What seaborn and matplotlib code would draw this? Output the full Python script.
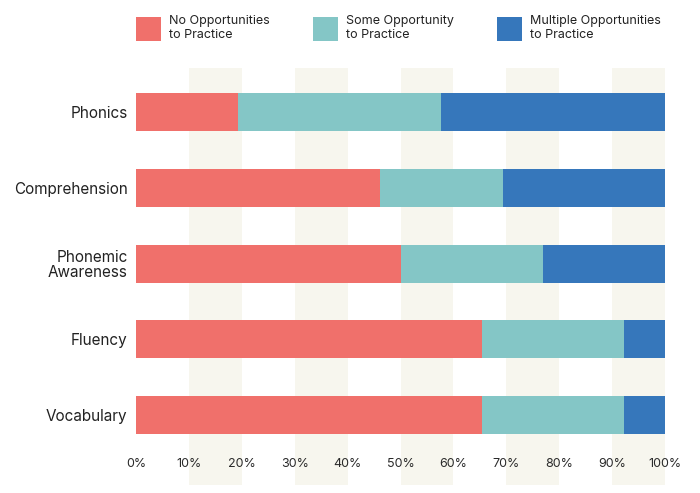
import matplotlib
matplotlib.use("Agg")
import matplotlib.pyplot as plt
from matplotlib.patches import Patch
import seaborn as sns
import numpy as np
import pandas as pd

categories = ["Phonics", "Comprehension", "Phonemic\nAwareness", "Fluency", "Vocabulary"]
no_opp = [19.2, 46.2, 50.0, 65.4, 65.4]
some_opp = [38.5, 23.1, 26.9, 26.9, 26.9]
multi_opp = [42.3, 30.7, 23.1, 7.7, 7.7]
series_names = ["No Opportunities\nto Practice", "Some Opportunity\nto Practice", "Multiple Opportunities\nto Practice"]
colors = ["#F0706B", "#84C6C6", "#3677BB"]
xticks = [0, 10, 20, 30, 40, 50, 60, 70, 80, 90, 100]

sns.set_theme(style="white")
plt.rcParams["font.family"] = ["Inter", "DejaVu Sans"]

fig = plt.figure(figsize=(7, 4.93), dpi=100)
ax = fig.add_axes([136/700, 1-485/493, 529/700, (485-68)/493])

# background stripes
for i in range(1, 10, 2):
    ax.axvspan(xticks[i], xticks[i+1], color="#F7F6EE", lw=0, zorder=0)

df = pd.DataFrame({"cat": categories, "no": no_opp, "some": some_opp, "multi": multi_opp})
df["c1"] = df["no"]
df["c2"] = df["no"] + df["some"]
df["c3"] = df["no"] + df["some"] + df["multi"]

for col, color in zip(["c3", "c2", "c1"], colors[::-1]):
    sns.barplot(data=df, y="cat", x=col, orient="h", color=color, width=0.5,
                saturation=1, ax=ax, zorder=2, linewidth=0)

ax.set_xlim(0, 100)
ax.set_ylim(4.92, -0.58)
ax.set_xlabel("")
ax.set_ylabel("")
ax.set_xticks(xticks)
ax.set_xticklabels([f"{t}%" for t in xticks])
ax.tick_params(axis="x", length=0, pad=-19.5, labelsize=9, labelcolor="#2a2a2a")
ax.tick_params(axis="y", length=0, pad=6, labelsize=11, labelcolor="#222222")
for lbl in ax.get_yticklabels():
    lbl.set_linespacing(0.95)
for s in ax.spines.values():
    s.set_visible(False)

handles = [Patch(facecolor=c, edgecolor="none") for c in colors]
fig.legend(handles, series_names, loc="upper left", bbox_to_anchor=(125/700, 1-4/493),
           ncol=3, frameon=False, fontsize=9, handlelength=2.0, handleheight=2.5,
           handletextpad=0.6, columnspacing=3.5, labelcolor="#222222")

fig.savefig("out.png", dpi=100)
